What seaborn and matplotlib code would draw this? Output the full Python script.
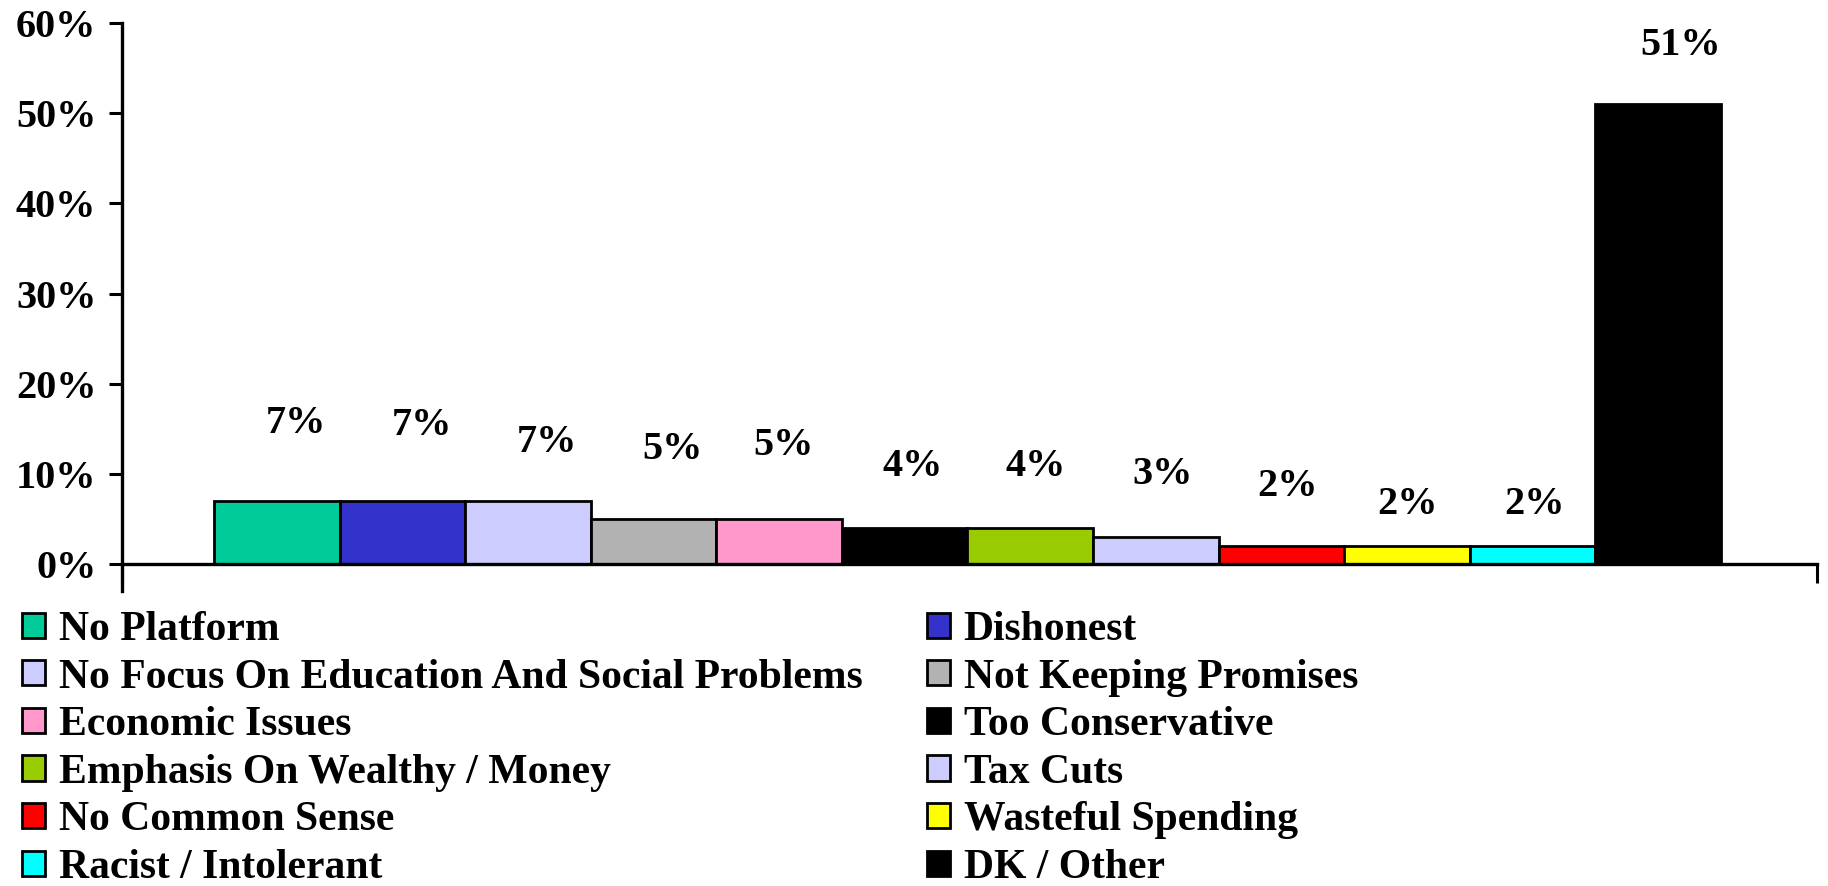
import matplotlib
matplotlib.use("Agg")
import matplotlib.pyplot as plt
import matplotlib.patches as mpatches
from matplotlib.ticker import FuncFormatter
import seaborn as sns
import pandas as pd

# data
categories = ["No Platform", "Dishonest", "No Focus On Education And Social Problems",
              "Not Keeping Promises", "Economic Issues", "Too Conservative",
              "Emphasis On Wealthy / Money", "Tax Cuts", "No Common Sense",
              "Wasteful Spending", "Racist / Intolerant", "DK / Other"]
values = [7, 7, 7, 5, 5, 4, 4, 3, 2, 2, 2, 51]
colors = ["#00CC99", "#3333CC", "#CCCCFF", "#B2B2B2", "#FF99CC", "#000000",
          "#99CC00", "#CCCCFF", "#FF0000", "#FFFF00", "#00FFFF", "#000000"]
yticks = [0, 10, 20, 30, 40, 50, 60]

# label placement (offset points from the bar top), as in the original
label_dx = [14, 14, 14, 14, 3, 6, 4, 5, 4, 0, 1, 16]
label_dy = [56, 54, 42, 50, 53, 44, 44, 45, 43, 30, 30, 42]

sns.set_style("white")
plt.rcParams["font.family"] = ["Liberation Serif", "DejaVu Serif"]
plt.rcParams["font.weight"] = "bold"
for key in ["text.color", "axes.labelcolor", "xtick.color", "ytick.color"]:
    plt.rcParams[key] = "black"
FS = 29
LFS = 30

df = pd.DataFrame({"reason": categories, "pct": values})

fig = plt.figure(figsize=(18.28, 8.86), dpi=100)
ax = fig.add_axes([122 / 1828, 322 / 886, 1695 / 1828, 541 / 886])

sns.barplot(data=df, x="reason", y="pct", hue="reason",
            palette=dict(zip(categories, colors)), width=1.0,
            edgecolor="black", linewidth=2, saturation=1, legend=False, ax=ax)

for i, v in enumerate(values):
    ax.annotate(f"{v}%", xy=(i, v), xytext=(label_dx[i], label_dy[i]),
                textcoords="offset points", ha="center", va="center",
                fontsize=FS, fontweight="bold", color="black")

ax.set_ylim(0, 60)
ax.set_xlim(-1.232, 12.264)
ax.set_yticks(yticks)
ax.yaxis.set_major_formatter(FuncFormatter(lambda y, _: f"{y:.0f}%"))
ax.set_xticks([-1.232, 12.264])
ax.set_xticklabels(["", ""])
ax.set_xlabel("")
ax.set_ylabel("")
ax.tick_params(axis="y", direction="out", length=9.5, width=2.2, pad=9,
               labelsize=FS, left=True)
ax.tick_params(axis="x", direction="out", length=14, width=2.2, bottom=True)
for s in ["top", "right"]:
    ax.spines[s].set_visible(False)
for s in ["left", "bottom"]:
    ax.spines[s].set_linewidth(2.4)
    ax.spines[s].set_color("black")
ax.spines["left"].set_bounds(-3, 60)
for lab in ax.get_yticklabels():
    lab.set_fontweight("bold")

# legend: two columns, filled row by row
handles = [mpatches.Patch(facecolor=c, edgecolor="black", linewidth=2, label=n)
           for n, c in zip(categories, colors)]
kw = dict(frameon=False, borderpad=0, borderaxespad=0, handlelength=0.55,
          handleheight=0.55, handletextpad=0.33, labelspacing=0.23,
          loc="upper left", prop={"weight": "bold", "size": LFS})
fig.legend(handles=handles[0::2], bbox_to_anchor=(22 / 1828, 1 - 611 / 886), **kw)
fig.legend(handles=handles[1::2], bbox_to_anchor=(927 / 1828, 1 - 611 / 886), **kw)

fig.savefig("out.png", dpi=100)
